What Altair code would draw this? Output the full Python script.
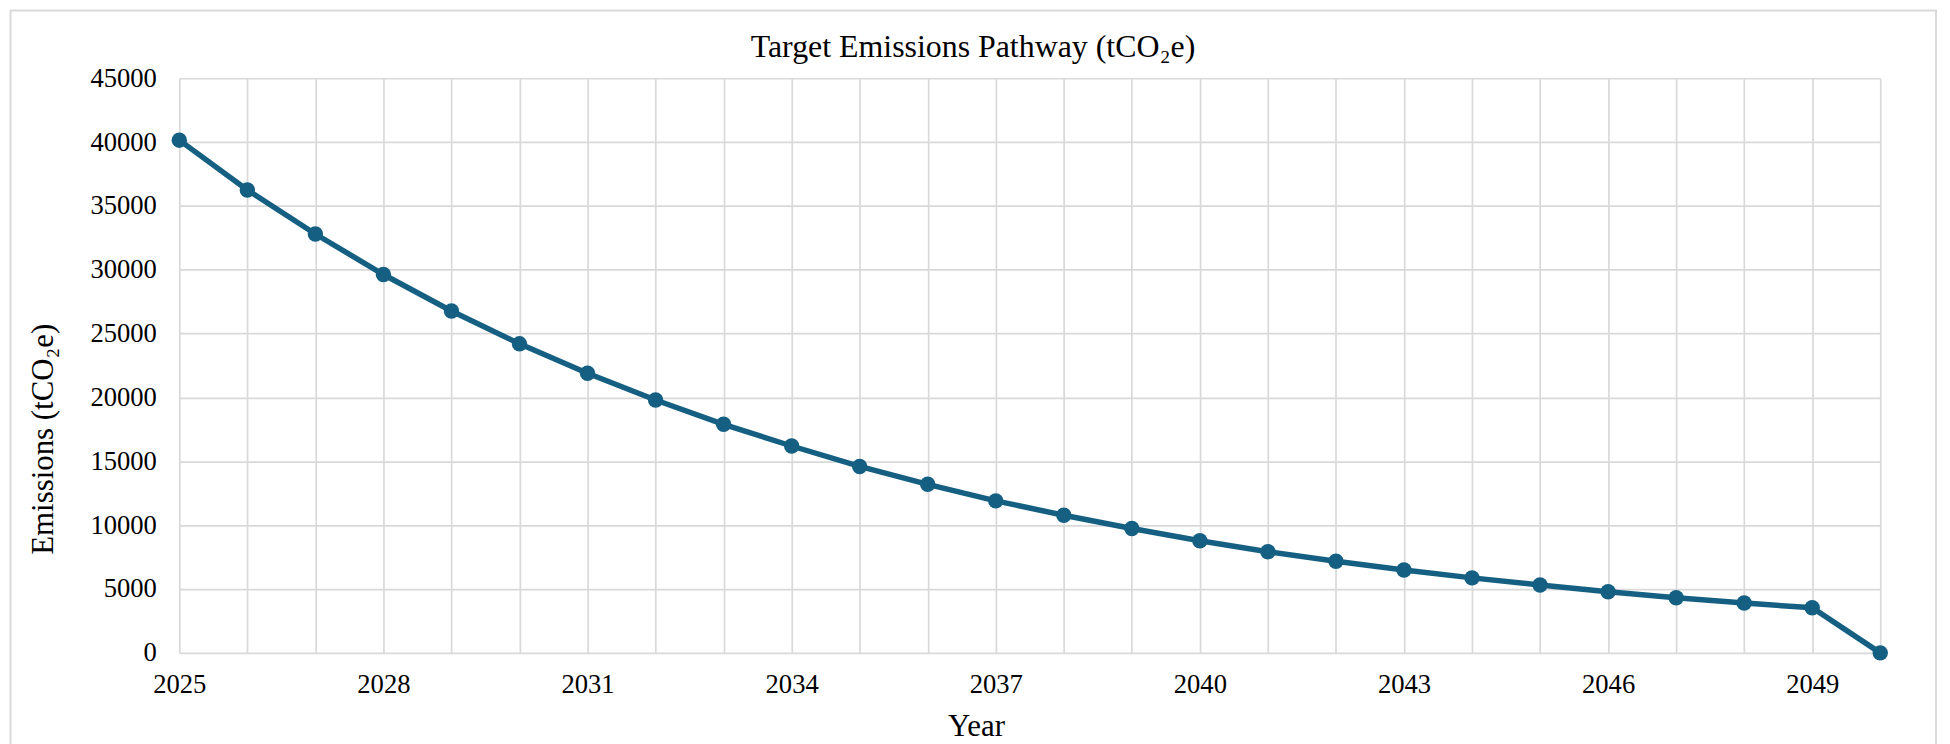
import altair as alt
import pandas as pd

years = list(range(2025, 2051))
emissions = [40150, 36250, 32800, 29630, 26770, 24200, 21900, 19800, 17900, 16200,
             14600, 13200, 11900, 10780, 9740, 8780, 7920, 7170, 6490, 5870,
             5320, 4780, 4310, 3900, 3530, 0]
y_ticks = list(range(0, 45001, 5000))

title_text = "Target Emissions Pathway (tCO\u2082e)"
y_title = "Emissions (tCO\u2082e)"
x_title = "Year"

LINE = "#156082"
GRID = "#d9d9d9"
FONT = "Liberation Serif"

df = pd.DataFrame({"Year": years, "Emissions": emissions})

frame = alt.Chart(pd.DataFrame({"f": [0]})).mark_rect(
    fill="#ffffff", fillOpacity=0, stroke=GRID, strokeWidth=2
).encode(
    x=alt.value(-169.5), x2=alt.value(1764), y=alt.value(-68), y2=alt.value(760)
)

line = alt.Chart(df).mark_line(
    color=LINE, strokeWidth=5.5,
    point=alt.OverlayMarkDef(filled=True, size=240, color=LINE, opacity=1)
).encode(
    x=alt.X("Year:Q",
            scale=alt.Scale(domain=[2025, 2050], nice=False, zero=False),
            axis=alt.Axis(values=years, format="d",
                          labelExpr="(datum.value - 2025) % 3 === 0 ? datum.label : ''",
                          labelOverlap=False, labelFlush=False, labelPadding=18.5,
                          title=x_title, titleX=800, titleY=82.5,
                          titleAlign="center", titleBaseline="alphabetic",
                          titleAnchor="start")),
    y=alt.Y("Emissions:Q",
            scale=alt.Scale(domain=[0, 45000], nice=False),
            axis=alt.Axis(values=y_ticks, format="d", labelPadding=23,
                          labelFlush=False,
                          title=y_title, titleX=-127, titleY=362,
                          titleAngle=270, titleAlign="center",
                          titleBaseline="alphabetic", titleAnchor="start"))
)

chart = alt.layer(frame, line).properties(
    width=1708, height=577,
    padding={"left": 172, "top": 69, "right": 62, "bottom": 90},
    autosize=alt.AutoSizeParams(type="none"),
    title=alt.TitleParams(text=title_text, font=FONT, fontSize=32,
                          fontWeight="normal", color="#000000",
                          anchor="middle", frame="group", dx=-57,
                          offset=-80, baseline="alphabetic"),
    background="#ffffff"
).configure_axis(
    domain=False, ticks=False, tickSize=0,
    grid=True, gridColor=GRID, gridWidth=1.7,
    labelFont=FONT, labelFontSize=26.7, labelColor="#000000",
    titleFont=FONT, titleFontSize=31, titleFontWeight="normal", titleColor="#000000"
).configure_view(strokeWidth=0)

chart.save("out.html", embed_options={"renderer": "svg", "actions": False})
